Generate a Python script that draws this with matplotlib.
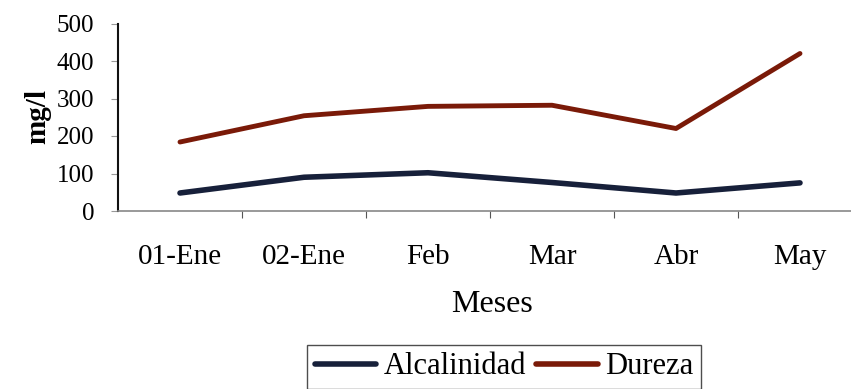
import matplotlib
matplotlib.use("Agg")
import matplotlib.pyplot as plt

months = ["01-Ene", "02-Ene", "Feb", "Mar", "Abr", "May"]
alcalinidad = [48, 90, 102, 76, 48, 75]
dureza = [184, 254, 279, 282, 220, 420]
yticks = [0, 100, 200, 300, 400, 500]

plt.rcParams['font.family'] = ['Liberation Serif', 'DejaVu Serif']

W, H = 851, 389
fig = plt.figure(figsize=(W / 100, H / 100), dpi=100)
ax = fig.add_axes([118 / W, 1 - 211 / H, (862 - 118) / W, (211 - 23.5) / H])

x = list(range(len(months)))
ax.plot(x, alcalinidad, color='#17203a', lw=4, label='Alcalinidad', solid_capstyle='round')
ax.plot(x, dureza, color='#7a1a08', lw=3.5, label='Dureza', solid_capstyle='round')

ax.set_xlim(-0.5, 5.5)
ax.set_ylim(0, 500)
ax.set_yticks(yticks)
ax.set_yticklabels([str(v) for v in yticks], fontsize=18)
ax.set_xticks([i + 0.5 for i in range(5)])
ax.set_xticks(x, minor=True)
ax.set_xticklabels([])
ax.set_xticklabels(months, minor=True, fontsize=21)
ax.tick_params(axis='x', which='major', length=5, direction='out', color='#555555')
ax.tick_params(axis='x', which='minor', length=0, pad=24)
ax.tick_params(axis='y', length=5, direction='out', color='#999999', pad=12)

for s in ['top', 'right']:
    ax.spines[s].set_visible(False)
ax.spines['left'].set_color('#111111')
ax.spines['left'].set_linewidth(1.5)
ax.spines['bottom'].set_color('#888888')
ax.spines['bottom'].set_linewidth(1.2)

fig.text(38 / W, 1 - 117 / H, 'mg/l', rotation=90, fontsize=21, fontweight='bold',
         ha='center', va='center')
fig.text(492 / W, 1 - 305 / H, 'Meses', fontsize=23, ha='center', va='center')

leg = fig.legend(loc='center', bbox_to_anchor=(504 / W, 1 - 367 / H), ncol=2,
                 fontsize=22, frameon=True, fancybox=False, edgecolor='#222222',
                 handlelength=2.0, handletextpad=0.25, columnspacing=0.35,
                 borderpad=0.25)
leg.get_frame().set_linewidth(1.0)
for line in leg.get_lines():
    line.set_linewidth(4)

fig.savefig('out.png', dpi=100)
